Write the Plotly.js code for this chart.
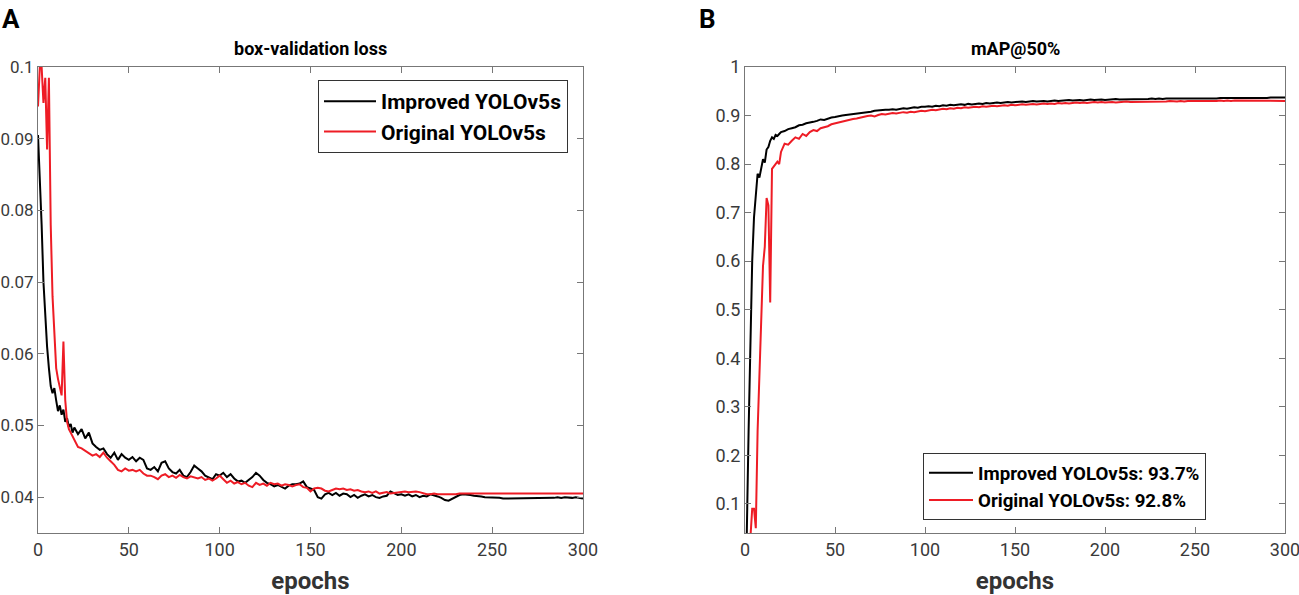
<!DOCTYPE html>
<html>
<head>
<meta charset="utf-8">
<script src="https://cdn.plot.ly/plotly-3.0.1.min.js"></script>
<style>
  html, body { margin: 0; padding: 0; background: #fff; }
  #chart { width: 1299px; height: 595px; }
</style>
</head>
<body>
<div id="chart"></div>
<script>
// epochs sampled: every epoch up to 20, then every 2 epochs
var epochs = [];
for (var e = 0; e <= 20; e++) epochs.push(e);
for (var e2 = 22; e2 <= 300; e2 += 2) epochs.push(e2);

var lossImproved = [
  0.0905, 0.085, 0.078, 0.070, 0.065, 0.061, 0.058, 0.0555, 0.0545, 0.0552, 0.0535,
  0.052, 0.0528, 0.0515, 0.0522, 0.0505, 0.0510, 0.0498, 0.0502, 0.0490, 0.0497,
  0.0488, 0.0495, 0.0482, 0.0490, 0.0475, 0.0470, 0.0466, 0.0468, 0.0460, 0.0455,
  0.0462, 0.0452, 0.0460, 0.0455, 0.0452, 0.0456, 0.0450, 0.0455, 0.0452, 0.0440,
  0.0438, 0.0442, 0.0436, 0.0448, 0.0450, 0.0440, 0.0435, 0.0433, 0.0438, 0.0430,
  0.0428, 0.0435, 0.0444, 0.0440, 0.0436, 0.0430, 0.0428, 0.0425, 0.0432, 0.0430,
  0.0434, 0.0428, 0.0432, 0.0426, 0.0422, 0.0423, 0.0420, 0.0424, 0.0428, 0.0434,
  0.0430, 0.0424, 0.0420, 0.0418, 0.0415, 0.0417, 0.0414, 0.0412, 0.0416, 0.0418,
  0.0418, 0.0419, 0.0422, 0.0414, 0.0412, 0.0410, 0.0400, 0.0398, 0.0404, 0.0406,
  0.0403, 0.0406, 0.0402, 0.0405, 0.0404, 0.0400, 0.0403, 0.0399, 0.0402, 0.0404,
  0.0401, 0.0403, 0.0400, 0.0399, 0.0401, 0.0402, 0.0408, 0.0405, 0.0403, 0.0404,
  0.0402, 0.0404, 0.0401, 0.0403, 0.0400, 0.0402, 0.0401, 0.0404, 0.0403, 0.0401,
  0.0399, 0.0396, 0.0395, 0.0398, 0.0401, 0.0403, 0.0404, 0.0404, 0.0403, 0.0402,
  0.0402, 0.0401, 0.0400, 0.0400, 0.0400, 0.0399, 0.0399, 0.0398, 0.0398, 0.0399,
  0.0398, 0.0398, 0.0399, 0.0398, 0.0399, 0.0398, 0.0398, 0.0398, 0.0398, 0.0399,
  0.0399, 0.0399, 0.0400, 0.0399, 0.0400, 0.0399, 0.0399, 0.0400, 0.0399, 0.0398
];

var lossOriginal = [
  0.0945, 0.1, 0.1, 0.095, 0.0985, 0.0885, 0.0985, 0.078, 0.068, 0.062, 0.058,
  0.0565, 0.0555, 0.0542, 0.0617, 0.0535, 0.0505, 0.0495, 0.0490, 0.0485, 0.0478,
  0.0470, 0.0468, 0.0465, 0.0462, 0.0458, 0.0460, 0.0456, 0.0462, 0.0455, 0.0450,
  0.0445, 0.0438, 0.0436, 0.0440, 0.0437, 0.0438, 0.0436, 0.0438, 0.0433, 0.0430,
  0.0430, 0.0428, 0.0425, 0.0430, 0.0432, 0.0428, 0.0430, 0.0427, 0.0431, 0.0428,
  0.0426, 0.0429, 0.0427, 0.0426, 0.0428, 0.0424, 0.0426, 0.0423, 0.0426, 0.0430,
  0.0425, 0.0420, 0.0423, 0.0419, 0.0421, 0.0418, 0.0420, 0.0416, 0.0414, 0.0420,
  0.0417, 0.0419, 0.0416, 0.0420, 0.0418, 0.0419, 0.0416, 0.0418, 0.0417, 0.0415,
  0.0417, 0.0418, 0.0414, 0.0413, 0.0408, 0.0412, 0.0413, 0.0412, 0.0409, 0.0408,
  0.0410, 0.0412, 0.0411, 0.0412, 0.0410, 0.0411, 0.0409, 0.0410, 0.0408, 0.0407,
  0.0408, 0.0406, 0.0408, 0.0405, 0.0406, 0.0407, 0.0405, 0.0406, 0.0407, 0.0408,
  0.0408, 0.0407, 0.0408, 0.0408, 0.0407, 0.0405, 0.0404, 0.0404, 0.0405, 0.0404,
  0.0404, 0.0403, 0.0403, 0.0404, 0.0404, 0.0405, 0.0405, 0.0405, 0.0405, 0.0406,
  0.0406, 0.0406, 0.0406, 0.0406, 0.0406, 0.0406, 0.0406, 0.0406, 0.0406, 0.0406,
  0.0406, 0.0406, 0.0405, 0.0405, 0.0405, 0.0405, 0.0405, 0.0405, 0.0405, 0.0405,
  0.0405, 0.0405, 0.0405, 0.0405, 0.0405, 0.0405, 0.0405, 0.0405, 0.0405, 0.0405
];

var mapImproved = [
  0.02, 0.04, 0.25, 0.45, 0.60, 0.69, 0.74, 0.78, 0.772, 0.79, 0.81,
  0.803, 0.83, 0.835, 0.848, 0.855, 0.852, 0.86, 0.858, 0.862, 0.866,
  0.868, 0.872, 0.874, 0.876, 0.880, 0.881, 0.884, 0.885, 0.887, 0.889,
  0.892, 0.891, 0.894, 0.896, 0.897, 0.899, 0.900, 0.901, 0.902, 0.903,
  0.904, 0.905, 0.906, 0.906, 0.908, 0.910, 0.911, 0.911, 0.912, 0.912,
  0.913, 0.912, 0.914, 0.915, 0.914, 0.916, 0.917, 0.916, 0.918, 0.918,
  0.919, 0.918, 0.920, 0.919, 0.921, 0.920, 0.922, 0.921, 0.922, 0.923,
  0.922, 0.924, 0.923, 0.924, 0.925, 0.924, 0.926, 0.925, 0.926, 0.927,
  0.926, 0.927, 0.928, 0.927, 0.928, 0.928, 0.929, 0.928, 0.929, 0.930,
  0.929, 0.930, 0.930, 0.929, 0.930, 0.931, 0.930, 0.931, 0.931, 0.932,
  0.931, 0.932, 0.932, 0.931, 0.932, 0.933, 0.932, 0.933, 0.933, 0.932,
  0.933, 0.933, 0.934, 0.933, 0.933, 0.934, 0.933, 0.934, 0.934, 0.933,
  0.934, 0.934, 0.935, 0.934, 0.935, 0.934, 0.935, 0.935, 0.934, 0.935,
  0.935, 0.934, 0.935, 0.935, 0.935, 0.934, 0.935, 0.935, 0.934, 0.935,
  0.935, 0.936, 0.936, 0.935, 0.936, 0.936, 0.936, 0.936, 0.936, 0.936,
  0.936, 0.936, 0.936, 0.936, 0.936, 0.937, 0.937, 0.937, 0.937, 0.937
];

var mapOriginal = [
  0.0, 0.0, 0.0, 0.03, 0.09, 0.09, 0.05, 0.25, 0.36, 0.45, 0.59,
  0.63, 0.73, 0.715, 0.515, 0.79, 0.795, 0.80, 0.805, 0.80, 0.825,
  0.842, 0.840, 0.848, 0.855, 0.852, 0.862, 0.858, 0.866, 0.870, 0.868,
  0.874, 0.876, 0.878, 0.882, 0.884, 0.886, 0.888, 0.890, 0.891, 0.893,
  0.894, 0.896, 0.897, 0.899, 0.900, 0.898, 0.901, 0.903, 0.902, 0.904,
  0.905, 0.904, 0.906, 0.907, 0.906, 0.908, 0.907, 0.909, 0.910, 0.909,
  0.911, 0.912, 0.911, 0.913, 0.914, 0.913, 0.915, 0.914, 0.916, 0.915,
  0.917, 0.916, 0.917, 0.918, 0.917, 0.919, 0.918, 0.919, 0.920, 0.919,
  0.920, 0.921, 0.920, 0.922, 0.921, 0.922, 0.923, 0.922, 0.923, 0.924,
  0.923, 0.924, 0.925, 0.924, 0.925, 0.924, 0.926, 0.925, 0.926, 0.925,
  0.926, 0.927, 0.926, 0.927, 0.926, 0.927, 0.928, 0.927, 0.928, 0.927,
  0.928, 0.928, 0.927, 0.928, 0.928, 0.929, 0.928, 0.928, 0.929, 0.928,
  0.929, 0.928, 0.929, 0.929, 0.928, 0.929, 0.929, 0.930, 0.929, 0.929,
  0.930, 0.929, 0.930, 0.930, 0.929, 0.930, 0.930, 0.930, 0.930, 0.930,
  0.930, 0.931, 0.930, 0.931, 0.930, 0.931, 0.931, 0.931, 0.930, 0.931,
  0.931, 0.931, 0.931, 0.930, 0.931, 0.931, 0.930, 0.931, 0.930, 0.930
];

var xTicks = [0, 50, 100, 150, 200, 250, 300];
var lossTicks = [0.04, 0.05, 0.06, 0.07, 0.08, 0.09, 0.1];
var lossTickText = ['0.04', '0.05', '0.06', '0.07', '0.08', '0.09', '0.1'];
var mapTicks = [0.1, 0.2, 0.3, 0.4, 0.5, 0.6, 0.7, 0.8, 0.9, 1];
var mapTickText = ['0.1', '0.2', '0.3', '0.4', '0.5', '0.6', '0.7', '0.8', '0.9', '1'];

var tickFont = {family: 'Roboto, sans-serif', size: 18, color: '#3a3a3a'};
var titleFont = {family: 'Roboto, sans-serif', size: 24, color: '#333', weight: 'bold'};

function axisBase() {
  return {
    showline: true, mirror: 'ticks', linecolor: '#777', linewidth: 1,
    ticks: 'inside', ticklen: 6, tickcolor: '#777', tickwidth: 1,
    showgrid: false, zeroline: false, tickfont: tickFont, fixedrange: true,
    ticklabeloverflow: 'allow'
  };
}

var data = [
  {x: epochs, y: lossImproved, type: 'scatter', mode: 'lines', name: 'Improved YOLOv5s',
   line: {color: '#000000', width: 2}, xaxis: 'x', yaxis: 'y', legend: 'legend'},
  {x: epochs, y: lossOriginal, type: 'scatter', mode: 'lines', name: 'Original YOLOv5s',
   line: {color: '#ee1c25', width: 2}, xaxis: 'x', yaxis: 'y', legend: 'legend'},
  {x: epochs, y: mapImproved, type: 'scatter', mode: 'lines', name: 'Improved YOLOv5s: 93.7%',
   line: {color: '#000000', width: 2}, xaxis: 'x2', yaxis: 'y2', legend: 'legend2'},
  {x: epochs, y: mapOriginal, type: 'scatter', mode: 'lines', name: 'Original YOLOv5s: 92.8%',
   line: {color: '#ee1c25', width: 2}, xaxis: 'x2', yaxis: 'y2', legend: 'legend2'}
];

var xa = axisBase();
xa.domain = [38 / 1299, 583 / 1299];
xa.range = [0, 300];
xa.tickvals = xTicks;
xa.anchor = 'y';
xa.title = {text: 'epochs', font: titleFont, standoff: 14};

var ya = axisBase();
ya.domain = [1 - 533 / 595, 1 - 67 / 595];
ya.range = [0.035, 0.1];
ya.tickvals = lossTicks;
ya.ticktext = lossTickText;
ya.anchor = 'x';
ya.tickfont = {family: 'Roboto, sans-serif', size: 17, color: '#3a3a3a'};
ya.ticklabelstandoff = 0;

var xb = axisBase();
xb.domain = [745 / 1299, 1285 / 1299];
xb.range = [0, 300];
xb.tickvals = xTicks;
xb.anchor = 'y2';
xb.title = {text: 'epochs', font: titleFont, standoff: 14};

var yb = axisBase();
yb.domain = [1 - 533 / 595, 1 - 67 / 595];
yb.range = [0.04, 1];
yb.tickvals = mapTicks;
yb.ticktext = mapTickText;
yb.anchor = 'x2';

var legendStyle = {
  bgcolor: '#fff', bordercolor: '#333', borderwidth: 1,
  tracegroupgap: 0, xanchor: 'left', yanchor: 'top'
};

var layout = {
  width: 1299, height: 595,
  margin: {l: 0, r: 0, t: 0, b: 0},
  paper_bgcolor: '#fff', plot_bgcolor: '#fff',
  showlegend: true,
  xaxis: xa, yaxis: ya, xaxis2: xb, yaxis2: yb,
  legend: Object.assign({}, legendStyle, {
    x: 318 / 1299, y: 1 - 80 / 595, itemwidth: 52,
    font: {family: 'Roboto, sans-serif', size: 21, color: '#000', weight: 'bold'}
  }),
  legend2: Object.assign({}, legendStyle, {
    x: 923 / 1299, y: 1 - 453 / 595, itemwidth: 44,
    font: {family: 'Roboto, sans-serif', size: 18.7, color: '#000', weight: 'bold'}
  }),
  annotations: [
    {text: 'A', xref: 'paper', yref: 'paper', x: 0, y: 1 - 2 / 595, xanchor: 'left', yanchor: 'top',
     showarrow: false, font: {family: 'Roboto, sans-serif', size: 26, color: '#000', weight: 'bold'}},
    {text: 'B', xref: 'paper', yref: 'paper', x: 697 / 1299, y: 1 - 2 / 595, xanchor: 'left', yanchor: 'top',
     showarrow: false, font: {family: 'Roboto, sans-serif', size: 26, color: '#000', weight: 'bold'}},
    {text: 'box-validation loss', xref: 'paper', yref: 'paper', x: 310 / 1299, y: 1 - 61 / 595,
     xanchor: 'center', yanchor: 'bottom', showarrow: false,
     font: {family: 'Roboto, sans-serif', size: 18, color: '#000', weight: 'bold'}},
    {text: 'mAP@50%', xref: 'paper', yref: 'paper', x: 1015 / 1299, y: 1 - 61 / 595,
     xanchor: 'center', yanchor: 'bottom', showarrow: false,
     font: {family: 'Roboto, sans-serif', size: 18, color: '#000', weight: 'bold'}}
  ]
};

Plotly.newPlot('chart', data, layout, {displayModeBar: false, staticPlot: true});
</script>
</body>
</html>
